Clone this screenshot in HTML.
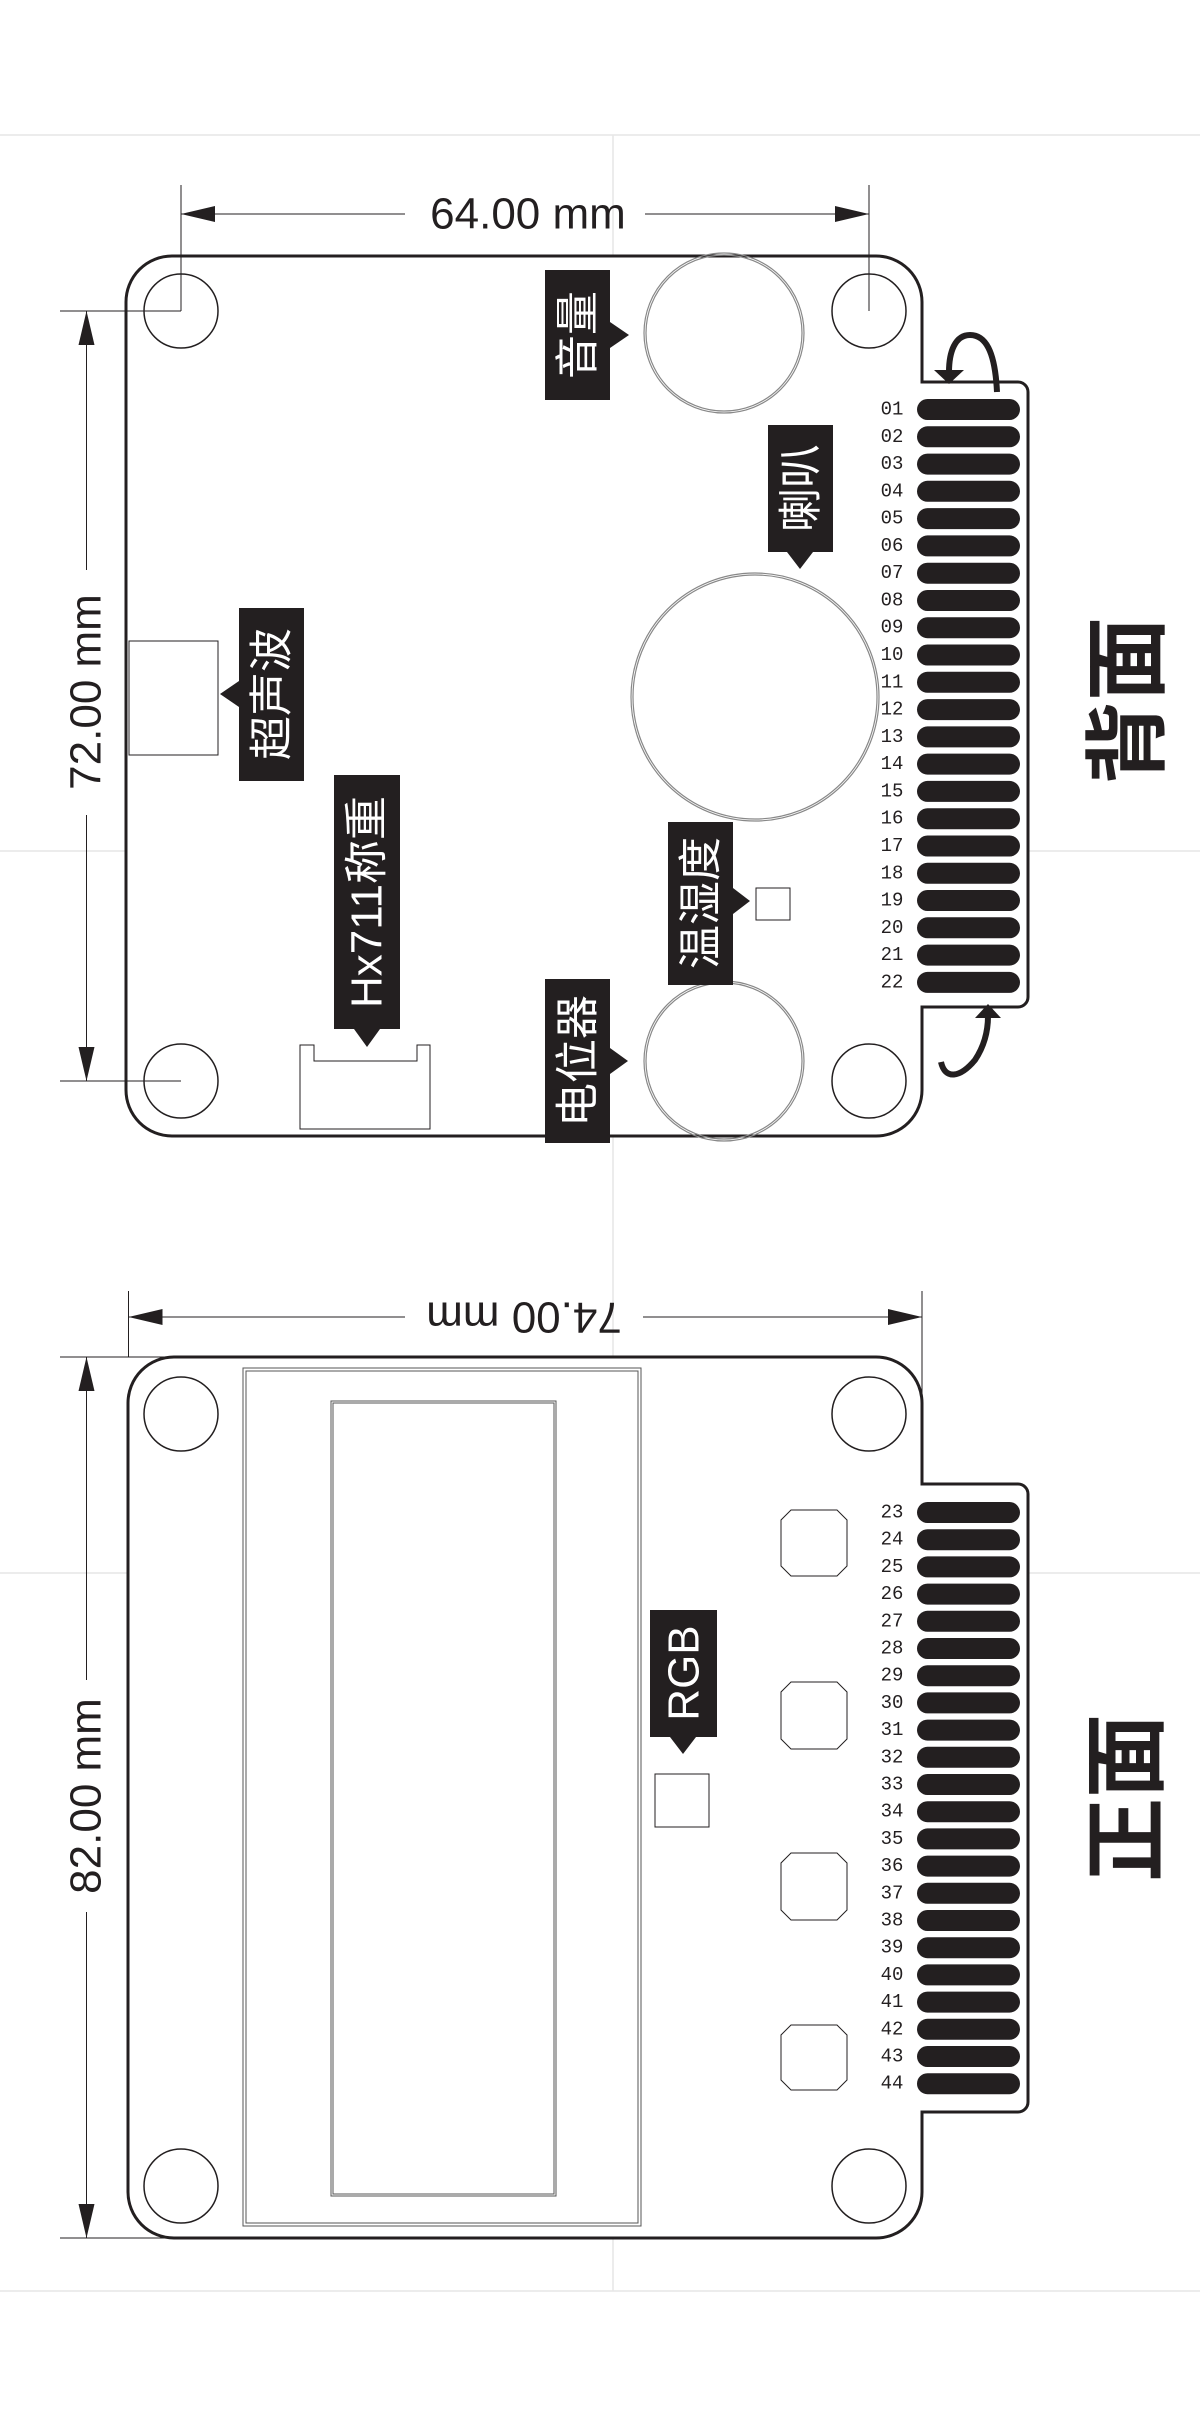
<!DOCTYPE html>
<html><head><meta charset="utf-8"><style>
html,body{margin:0;padding:0;background:#fff;}
svg{display:block;}
.lbl{font-family:"Liberation Sans","Noto Sans CJK SC",sans-serif;fill:#fff;font-size:44px;}
.dim{font-family:"Liberation Sans",sans-serif;fill:#231f20;font-size:44px;}
.pin{font-family:"Liberation Mono",monospace;fill:#231f20;font-size:19px;}
.big{font-family:"Liberation Sans","Noto Sans CJK SC",sans-serif;fill:#231f20;font-size:84px;font-weight:bold;}
</style></head><body>
<svg width="1200" height="2427" viewBox="0 0 1200 2427" xmlns="http://www.w3.org/2000/svg">
<defs>
<marker id="ah" viewBox="0 0 10 10" refX="10" refY="5" markerWidth="9" markerHeight="9" markerUnits="userSpaceOnUse" orient="auto"><path d="M0,0 L10,5 L0,10 z" fill="#231f20"/></marker>
</defs>
<!-- guide lines -->
<g stroke="#e6e6e6" stroke-width="1.5">
<line x1="0" y1="135" x2="1200" y2="135"/><line x1="0" y1="851" x2="1200" y2="851"/>
<line x1="0" y1="1573" x2="1200" y2="1573"/><line x1="0" y1="2291" x2="1200" y2="2291"/>
<line x1="613" y1="135" x2="613" y2="2291"/>
</g>

<!-- ============ TOP BOARD (背面) ============ -->
<path d="M172,256 H876 A46,46 0 0 1 922,302 V382 H1018 A10,10 0 0 1 1028,392 V997 A10,10 0 0 1 1018,1007 H922 V1090 A46,46 0 0 1 876,1136 H172 A46,46 0 0 1 126,1090 V302 A46,46 0 0 1 172,256 Z" fill="#fff" stroke="#231f20" stroke-width="3"/>
<g fill="none" stroke="#231f20" stroke-width="1.5">
<circle cx="181" cy="311" r="37"/><circle cx="869" cy="311" r="37"/>
<circle cx="181" cy="1081" r="37"/><circle cx="869" cy="1081" r="37"/>
</g>
<g fill="none" stroke="#888" stroke-width="1.2">
<circle cx="724" cy="333" r="80"/><circle cx="724" cy="333" r="78"/>
<circle cx="755" cy="697" r="124"/><circle cx="755" cy="697" r="122"/>
<circle cx="724" cy="1061" r="80"/><circle cx="724" cy="1061" r="78"/>
</g>
<!-- dims -->
<g stroke="#231f20" stroke-width="1">
<line x1="181" y1="185" x2="181" y2="311"/><line x1="869" y1="185" x2="869" y2="311"/>
<line x1="60" y1="311" x2="181" y2="311"/><line x1="60" y1="1081" x2="181" y2="1081"/>
<line x1="181" y1="214" x2="405" y2="214" marker-start="url(#ahs)"/>
<line x1="645" y1="214" x2="869" y2="214"/>
<line x1="86.5" y1="311" x2="86.5" y2="570"/><line x1="86.5" y1="815" x2="86.5" y2="1081"/>
</g>
<g fill="#231f20">
<path d="M181,214 l34,-8 v16 z"/><path d="M869,214 l-34,-8 v16 z"/>
<path d="M86.5,311 l-8,34 h16 z"/><path d="M86.5,1081 l-8,-34 h16 z"/>
</g>
<text class="dim" x="528" y="214" text-anchor="middle" dominant-baseline="central">64.00 mm</text>
<text class="dim" transform="rotate(-90 86 692)" x="86" y="692" text-anchor="middle" dominant-baseline="central">72.00 mm</text>

<!-- connectors -->
<g fill="none" stroke="#231f20" stroke-width="1">
<rect x="129" y="641" width="89" height="114"/>
<path d="M300,1129 V1045 H314 V1061 H417 V1045 H430 V1129 Z"/>
<rect x="756" y="888" width="34" height="32"/>
</g>
<!-- labels -->
<g fill="#231f20">
<rect x="545" y="270" width="65" height="130"/><path d="M610,322 L629,335 L610,348 z"/>
<rect x="768" y="425" width="65" height="127"/><path d="M787,552 L800,569 L813,552 z"/>
<rect x="239" y="608" width="65" height="173"/><path d="M239,681 L220,694 L239,707 z"/>
<rect x="334" y="775" width="66" height="254"/><path d="M354,1029 L367,1047 L380,1029 z"/>
<rect x="668" y="822" width="65" height="163"/><path d="M733,888 L750,901 L733,914 z"/>
<rect x="545" y="979" width="65" height="164"/><path d="M610,1048 L628,1061 L610,1074 z"/>
</g>
<text class="lbl" transform="rotate(-90 578 335)" x="578" y="335" text-anchor="middle" dominant-baseline="central">音量</text>
<text class="lbl" transform="rotate(-90 801 488)" x="801" y="488" text-anchor="middle" dominant-baseline="central">喇叭</text>
<text class="lbl" transform="rotate(-90 272 694)" x="272" y="694" text-anchor="middle" dominant-baseline="central">超声波</text>
<text class="lbl" transform="rotate(-90 367 902)" x="367" y="902" text-anchor="middle" dominant-baseline="central">Hx711称重</text>
<text class="lbl" transform="rotate(-90 701 903)" x="701" y="903" text-anchor="middle" dominant-baseline="central">温湿度</text>
<text class="lbl" transform="rotate(-90 578 1061)" x="578" y="1061" text-anchor="middle" dominant-baseline="central">电位器</text>
<!-- arrows -->
<g fill="none" stroke="#231f20" stroke-width="6">
<path d="M997,392 C995,350 985,335 970,335 C955,335 949,352 949,372"/>
<path d="M941,1062 C945,1080 960,1078 975,1060 C985,1045 988,1030 988,1016"/>
</g>
<g fill="#231f20">
<path d="M934,370 L964,370 L949,384 z"/>
<path d="M975,1018 L1001,1018 L988,1004 z"/>
</g>
<text class="big" transform="rotate(-90 1128 701)" x="1128" y="701" text-anchor="middle" dominant-baseline="central">背面</text>
<!-- pads top -->
<g fill="#231f20">
<rect x="917" y="399" width="103" height="21" rx="10.5"/><rect x="917" y="426.3" width="103" height="21" rx="10.5"/><rect x="917" y="453.6" width="103" height="21" rx="10.5"/><rect x="917" y="480.8" width="103" height="21" rx="10.5"/><rect x="917" y="508.1" width="103" height="21" rx="10.5"/><rect x="917" y="535.4" width="103" height="21" rx="10.5"/><rect x="917" y="562.7" width="103" height="21" rx="10.5"/><rect x="917" y="590" width="103" height="21" rx="10.5"/><rect x="917" y="617.2" width="103" height="21" rx="10.5"/><rect x="917" y="644.5" width="103" height="21" rx="10.5"/><rect x="917" y="671.8" width="103" height="21" rx="10.5"/><rect x="917" y="699.1" width="103" height="21" rx="10.5"/><rect x="917" y="726.4" width="103" height="21" rx="10.5"/><rect x="917" y="753.6" width="103" height="21" rx="10.5"/><rect x="917" y="780.9" width="103" height="21" rx="10.5"/><rect x="917" y="808.2" width="103" height="21" rx="10.5"/><rect x="917" y="835.5" width="103" height="21" rx="10.5"/><rect x="917" y="862.8" width="103" height="21" rx="10.5"/><rect x="917" y="890" width="103" height="21" rx="10.5"/><rect x="917" y="917.3" width="103" height="21" rx="10.5"/><rect x="917" y="944.6" width="103" height="21" rx="10.5"/><rect x="917" y="971.9" width="103" height="21" rx="10.5"/>
</g>
<g class="pin" text-anchor="middle" dominant-baseline="central">
<text x="892" y="409.5">01</text><text x="892" y="436.8">02</text><text x="892" y="464.1">03</text><text x="892" y="491.3">04</text><text x="892" y="518.6">05</text><text x="892" y="545.9">06</text><text x="892" y="573.2">07</text><text x="892" y="600.5">08</text><text x="892" y="627.7">09</text><text x="892" y="655">10</text><text x="892" y="682.3">11</text><text x="892" y="709.6">12</text><text x="892" y="736.9">13</text><text x="892" y="764.1">14</text><text x="892" y="791.4">15</text><text x="892" y="818.7">16</text><text x="892" y="846">17</text><text x="892" y="873.3">18</text><text x="892" y="900.5">19</text><text x="892" y="927.8">20</text><text x="892" y="955.1">21</text><text x="892" y="982.4">22</text>
</g>

<!-- ============ FRONT BOARD (正面) ============ -->
<path d="M174,1357 H876 A46,46 0 0 1 922,1403 V1484 H1018 A10,10 0 0 1 1028,1494 V2102 A10,10 0 0 1 1018,2112 H922 V2192 A46,46 0 0 1 876,2238 H174 A46,46 0 0 1 128,2192 V1403 A46,46 0 0 1 174,1357 Z" fill="#fff" stroke="#231f20" stroke-width="3"/>
<g fill="none" stroke="#231f20" stroke-width="1.5">
<circle cx="181" cy="1414" r="37"/><circle cx="869" cy="1414" r="37"/>
<circle cx="181" cy="2186" r="37"/><circle cx="869" cy="2186" r="37"/>
</g>
<g fill="none" stroke="#555" stroke-width="1">
<rect x="243" y="1368" width="398" height="858"/><rect x="246" y="1371" width="392" height="852"/>
<rect x="331" y="1401" width="225" height="795"/><rect x="333" y="1403" width="221" height="791"/>
</g>
<g stroke="#231f20" stroke-width="1">
<line x1="128.5" y1="1291" x2="128.5" y2="1357"/><line x1="922" y1="1291" x2="922" y2="1484"/>
<line x1="60" y1="1357" x2="174" y2="1357"/><line x1="60" y1="2238" x2="174" y2="2238"/>
<line x1="128.5" y1="1317" x2="405" y2="1317"/><line x1="643" y1="1317" x2="922" y2="1317"/>
<line x1="86.5" y1="1357" x2="86.5" y2="1680"/><line x1="86.5" y1="1912" x2="86.5" y2="2238"/>
</g>
<g fill="#231f20">
<path d="M128.5,1317 l34,-8 v16 z"/><path d="M922,1317 l-34,-8 v16 z"/>
<path d="M86.5,1357 l-8,34 h16 z"/><path d="M86.5,2238 l-8,-34 h16 z"/>
</g>
<text class="dim" transform="rotate(180 524 1317)" x="524" y="1317" text-anchor="middle" dominant-baseline="central">74.00 mm</text>
<text class="dim" transform="rotate(-90 86 1796)" x="86" y="1796" text-anchor="middle" dominant-baseline="central">82.00 mm</text>
<!-- buttons -->
<g fill="none" stroke="#231f20" stroke-width="1">
<path d="M791,1510 H837 L847,1520 V1566 L837,1576 H791 L781,1566 V1520 Z"/>
<path d="M791,1682 H837 L847,1692 V1739 L837,1749 H791 L781,1739 V1692 Z"/>
<path d="M791,1853 H837 L847,1863 V1910 L837,1920 H791 L781,1910 V1863 Z"/>
<path d="M791,2025 H837 L847,2035 V2080 L837,2090 H791 L781,2080 V2035 Z"/>
<rect x="655" y="1774" width="54" height="53"/>
</g>
<g fill="#231f20">
<rect x="650" y="1610" width="67" height="127"/><path d="M670,1737 L683,1754 L696,1737 z"/>
</g>
<text class="lbl" transform="rotate(-90 684 1673)" x="684" y="1673" text-anchor="middle" dominant-baseline="central">RGB</text>
<text class="big" transform="rotate(-90 1127 1798)" x="1127" y="1798" text-anchor="middle" dominant-baseline="central">正面</text>
<g fill="#231f20">
<rect x="917" y="1502" width="103" height="21" rx="10.5"/><rect x="917" y="1529.2" width="103" height="21" rx="10.5"/><rect x="917" y="1556.4" width="103" height="21" rx="10.5"/><rect x="917" y="1583.6" width="103" height="21" rx="10.5"/><rect x="917" y="1610.8" width="103" height="21" rx="10.5"/><rect x="917" y="1638" width="103" height="21" rx="10.5"/><rect x="917" y="1665.2" width="103" height="21" rx="10.5"/><rect x="917" y="1692.4" width="103" height="21" rx="10.5"/><rect x="917" y="1719.6" width="103" height="21" rx="10.5"/><rect x="917" y="1746.8" width="103" height="21" rx="10.5"/><rect x="917" y="1774" width="103" height="21" rx="10.5"/><rect x="917" y="1801.2" width="103" height="21" rx="10.5"/><rect x="917" y="1828.4" width="103" height="21" rx="10.5"/><rect x="917" y="1855.6" width="103" height="21" rx="10.5"/><rect x="917" y="1882.8" width="103" height="21" rx="10.5"/><rect x="917" y="1910" width="103" height="21" rx="10.5"/><rect x="917" y="1937.2" width="103" height="21" rx="10.5"/><rect x="917" y="1964.4" width="103" height="21" rx="10.5"/><rect x="917" y="1991.6" width="103" height="21" rx="10.5"/><rect x="917" y="2018.8" width="103" height="21" rx="10.5"/><rect x="917" y="2046" width="103" height="21" rx="10.5"/><rect x="917" y="2073.2" width="103" height="21" rx="10.5"/>
</g>
<g class="pin" text-anchor="middle" dominant-baseline="central">
<text x="892" y="1512.5">23</text><text x="892" y="1539.7">24</text><text x="892" y="1566.9">25</text><text x="892" y="1594.1">26</text><text x="892" y="1621.3">27</text><text x="892" y="1648.5">28</text><text x="892" y="1675.7">29</text><text x="892" y="1702.9">30</text><text x="892" y="1730.1">31</text><text x="892" y="1757.3">32</text><text x="892" y="1784.5">33</text><text x="892" y="1811.7">34</text><text x="892" y="1838.9">35</text><text x="892" y="1866.1">36</text><text x="892" y="1893.3">37</text><text x="892" y="1920.5">38</text><text x="892" y="1947.7">39</text><text x="892" y="1974.9">40</text><text x="892" y="2002.1">41</text><text x="892" y="2029.3">42</text><text x="892" y="2056.5">43</text><text x="892" y="2083.7">44</text>
</g>
</svg>
</body></html>
